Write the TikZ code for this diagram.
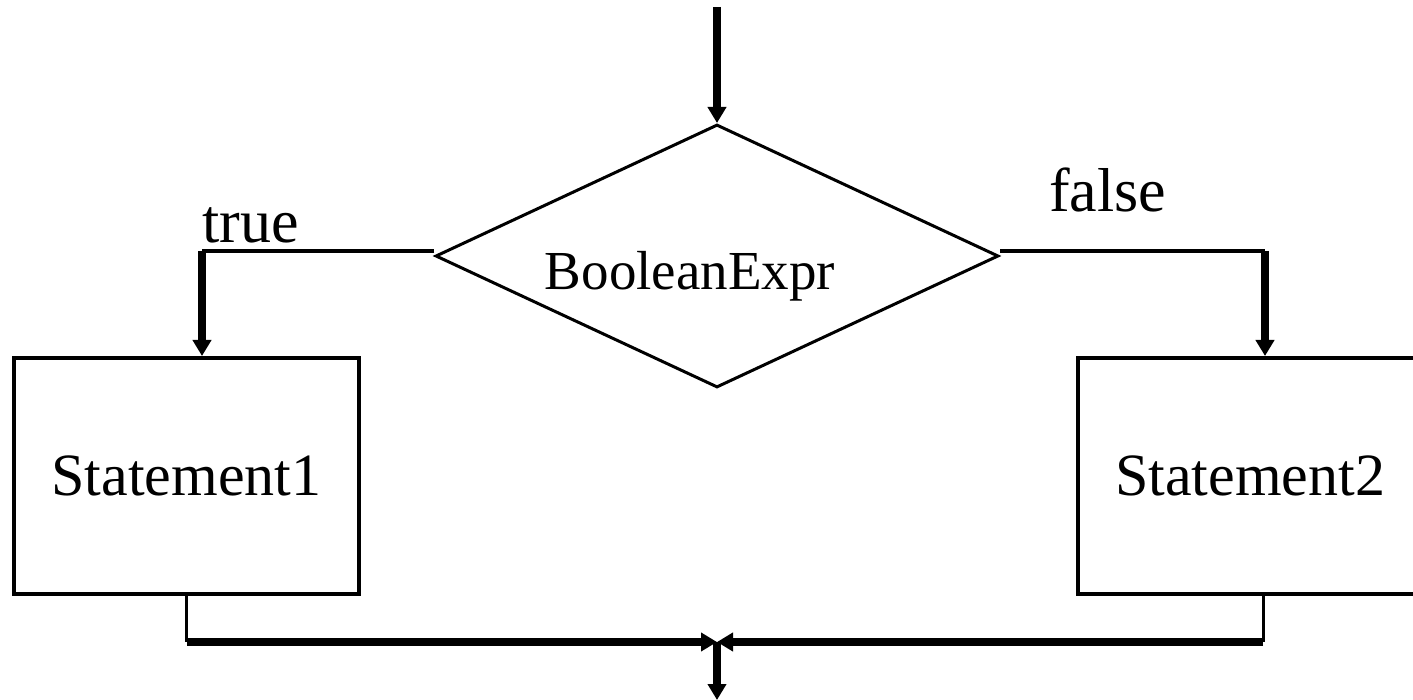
\documentclass[tikz,border=0pt]{standalone}
\usepackage{fontspec}
\setmainfont{Liberation Serif}
\usetikzlibrary{shapes.geometric,arrows.meta}
\tikzset{
  thickarrow/.style={line width=7.5pt,-{Triangle[length=16pt,width=18pt]}},
  thinline/.style={line width=3.5pt},
  stubline/.style={line width=3pt},
  stmtbox/.style={draw,line width=4pt,rectangle,minimum width=345pt,minimum height=236pt,inner sep=0pt,font=\fontsize{60}{60}\selectfont},
  decbox/.style={draw,line width=3pt,diamond,minimum width=563pt,minimum height=263pt,inner sep=0pt},
  lbl/.style={font=\fontsize{62}{62}\selectfont,inner sep=0pt}
}
\begin{document}
\begin{tikzpicture}[x=1pt,y=-1pt]
\useasboundingbox (0,0) rectangle (1413,700);
\node[decbox] (D) at (717,256) {};
\node[font=\fontsize{55}{55}\selectfont,inner sep=0pt,anchor=base] (Dt) at (690,290) {BooleanExpr};
\node[stmtbox] (B1) at (186.5,476) {Statement1};
\node[stmtbox] (B2) at (1250,476) {Statement2};
\node[lbl,anchor=base west] (T) at (202,243) {true};
\node[lbl,anchor=base west] (F) at (1049,212) {false};
\coordinate (top) at (717,7);
\coordinate (c1) at (202,251);
\coordinate (c2) at (1265,251);
\coordinate (m) at (717,642);
\coordinate (l1) at (186.5,642);
\coordinate (r1) at (1263,642);
\coordinate (bot) at (717,700);
\draw[thickarrow] (top) -- (D.north);
\draw[thinline] (c1 -| D.west) -- (c1);
\draw[thickarrow] (c1) -- (c1 |- B1.north);
\draw[thinline] (c2 -| D.east) -- (c2);
\draw[thickarrow] (c2) -- (c2 |- B2.north);
\draw[stubline] (B1.south) -- (l1);
\draw[stubline] (r1 |- B2.south) -- (r1);
\draw[thickarrow] (l1) -- (m);
\draw[thickarrow] (r1) -- (m);
\draw[thickarrow] (m) -- (bot);
\end{tikzpicture}
\end{document}
